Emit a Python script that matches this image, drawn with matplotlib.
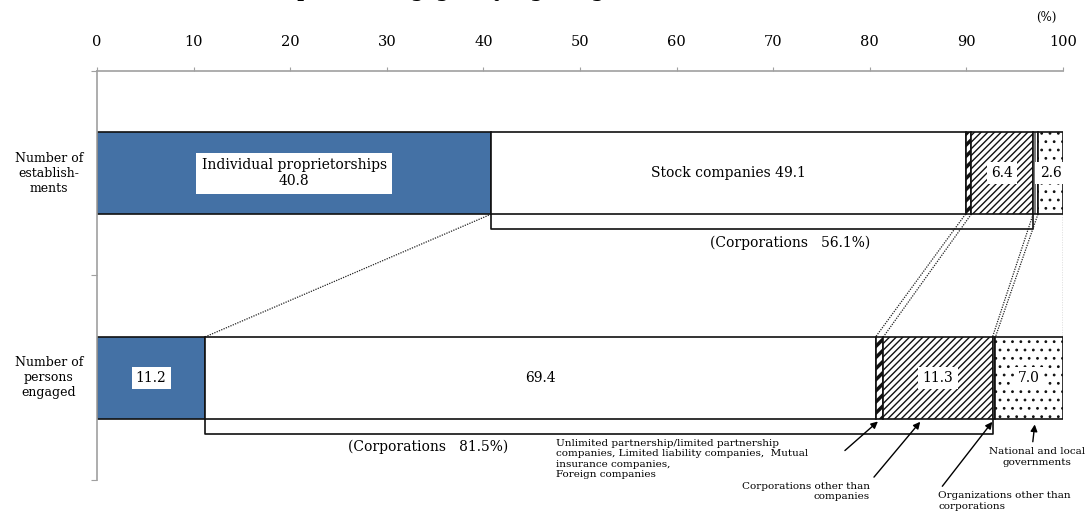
import numpy as np
import matplotlib.pyplot as plt

# composition by legal organization (%)
categories = ['Number of\nestablish-\nments', 'Number of\npersons\nengaged']
segments = ['Individual proprietorships', 'Stock companies',
            'Unlimited partnership/limited partnership\ncompanies, Limited liability companies,  Mutual\ninsurance companies,\nForeign companies',
            'Corporations other than\ncompanies',
            'Organizations other than\ncorporations',
            'National and local\ngovernments']
establishments = [40.8, 49.1, 0.6, 6.4, 0.5, 2.6]
persons = [11.2, 69.4, 0.8, 11.3, 0.3, 7.0]
xticks = [0, 10, 20, 30, 40, 50, 60, 70, 80, 90, 100]

plt.rcParams['font.family'] = 'DejaVu Serif'
plt.rcParams['hatch.linewidth'] = 0.8

fills = ['#4471a5', 'white', 'white', 'white', 'white', 'white']
hatches = [None, None, '///', '/////', '|||||', '..']
hatch_lw = [0.8, 0.8, 2.5, 1.0, 0.8, 0.8]

fig = plt.figure(figsize=(10.9, 5.17), dpi=100)
ax = fig.add_axes([0.089, 0.0716, 0.8863, 0.7911])

data = np.array([establishments, persons])
ypos = np.arange(len(categories))
bh = 0.4
lefts = np.zeros(len(categories))
for i in range(len(segments)):
    with plt.rc_context({'hatch.linewidth': hatch_lw[i]}):
        ax.barh(ypos, data[:, i], left=lefts, height=bh, color=fills[i],
                edgecolor='#111111', linewidth=1.2, hatch=hatches[i], zorder=2)
    lefts += data[:, i]

cum = np.cumsum(data, axis=1)
start = cum - data
mid = start + data / 2

box = dict(facecolor='white', edgecolor='none', pad=3)
fs = 10
# establishments row
ax.text(mid[0, 0], 0, 'Individual proprietorships\n%.1f' % data[0, 0], ha='center', va='center',
        fontsize=fs, bbox=dict(facecolor='white', edgecolor='none', pad=4), zorder=4)
ax.text(mid[0, 1], 0, 'Stock companies %.1f' % data[0, 1], ha='center', va='center', fontsize=fs, zorder=4)
ax.text(mid[0, 3], 0, '%.1f' % data[0, 3], ha='center', va='center', fontsize=fs, bbox=box, zorder=4)
ax.text(mid[0, 5], 0, '%.1f' % data[0, 5], ha='center', va='center', fontsize=fs, bbox=box, zorder=4)
# persons row
ax.text(mid[1, 0], 1, '%.1f' % data[1, 0], ha='center', va='center', fontsize=fs, bbox=box, zorder=4)
ax.text(mid[1, 1], 1, '%.1f' % data[1, 1], ha='center', va='center', fontsize=fs, zorder=4)
ax.text(mid[1, 3], 1, '%.1f' % data[1, 3], ha='center', va='center', fontsize=fs, bbox=box, zorder=4)
ax.text(mid[1, 5], 1, '%.1f' % data[1, 5], ha='center', va='center', fontsize=fs, bbox=box, zorder=4)

# corporations brackets (stock companies through other corporations)
corp = data[:, 1:4].sum(axis=1)
bx = [(71.7, 0.34), (34.3, 1.34)]
for r in range(2):
    x0, x1 = start[r, 1], cum[r, 3]
    yb = r + bh / 2
    ax.plot([x0, x0, x1, x1], [yb, yb + 0.075, yb + 0.075, yb], color='#111111', lw=1.2,
            zorder=1, clip_on=False)
    ax.text(bx[r][0], bx[r][1], '(Corporations   %.1f%%)' % corp[r], ha='center', va='center',
            fontsize=fs)

# dotted guides between the two bars
for k in range(len(segments)):
    ax.plot([cum[0, k], cum[1, k]], [bh / 2, 1 - bh / 2], color='#222222', lw=0.9,
            ls=(0, (1, 1)), zorder=1)

# callouts for the small segments
small = 7.5
ax.annotate(segments[2], xy=(mid[1, 2], 1.205), xytext=(47.5, 1.30), fontsize=small,
            ha='left', va='top', annotation_clip=False)
ax.annotate('', xy=(mid[1, 2] + 0.05, 1.205), xytext=(77.2, 1.365), annotation_clip=False,
            arrowprops=dict(arrowstyle='-|>', color='black', lw=1, mutation_scale=10))
ax.annotate(segments[3], xy=(85.4, 1.205), xytext=(80.0, 1.51), fontsize=small,
            ha='right', va='top', annotation_clip=False,
            arrowprops=dict(arrowstyle='-|>', color='black', lw=1, mutation_scale=10,
                            relpos=(1.0, 1.0)))
ax.annotate(segments[4], xy=(mid[1, 4], 1.205), xytext=(87.1, 1.555), fontsize=small,
            ha='left', va='top', annotation_clip=False,
            arrowprops=dict(arrowstyle='-|>', color='black', lw=1, mutation_scale=10,
                            relpos=(0.0, 1.0)))
ax.annotate(segments[5], xy=(97.1, 1.215), xytext=(97.3, 1.34), fontsize=small,
            ha='center', va='top', annotation_clip=False, multialignment='center',
            arrowprops=dict(arrowstyle='-|>', color='black', lw=1, mutation_scale=10,
                            relpos=(0.45, 1.0)))

# category names
for y, name in zip(ypos, categories):
    ax.text(-0.05, y, name, transform=ax.get_yaxis_transform(), ha='center', va='center',
            multialignment='center', fontsize=9)

ax.set_xlim(0, 100)
ax.set_ylim(1.5, -0.5)
ax.xaxis.tick_top()
ax.set_xticks(xticks)
ax.set_yticks([-0.5, 0.5, 1.5])
ax.set_yticklabels([])
ax.tick_params(axis='x', length=3, pad=13, labelsize=10.5, color='#a0a0a0')
ax.tick_params(axis='y', length=4, color='#a0a0a0')
for s in ['right', 'bottom']:
    ax.spines[s].set_visible(False)
for s in ['top', 'left']:
    ax.spines[s].set_color('#a0a0a0')
    ax.spines[s].set_linewidth(1.2)

ax.text(0.983, 1.13, '(%)', transform=ax.transAxes, ha='center', va='center', fontsize=8.5)

# title sits at the very top edge, only its lower part falls inside the figure
fig.text(84 / 1090, 1 + 3 / 517, 'Establishments and persons engaged by legal organization',
         fontsize=13.5, fontweight='bold', ha='left', va='baseline')

fig.savefig('out.png', dpi=100)
